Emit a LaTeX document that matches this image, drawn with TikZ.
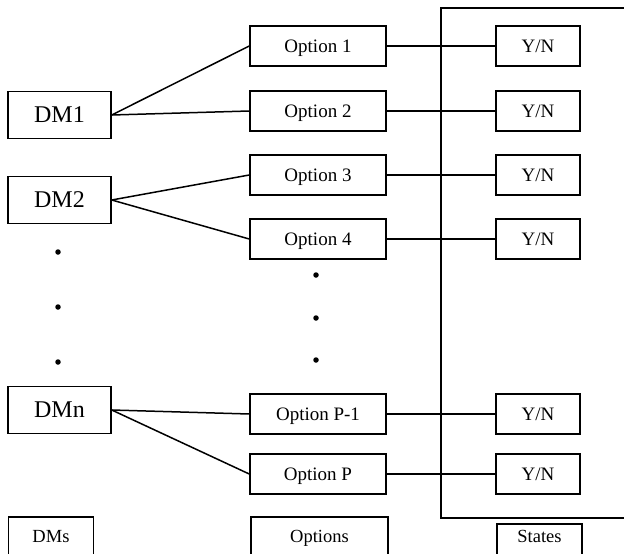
\documentclass[tikz,border=0pt]{standalone}
\usepackage{fontspec}
\setmainfont{Liberation Serif}
\usepackage{tikz}

\tikzset{
  dmbox/.style={draw, line width=1.5pt, minimum width=103pt, minimum height=47pt, text height=15.8pt, text depth=0pt, font=\fontsize{24}{27}\selectfont},
  optbox/.style={draw, line width=1.5pt, minimum width=136pt, minimum height=40pt, text height=12.5pt, text depth=0pt, font=\fontsize{19}{22}\selectfont},
  ynbox/.style={draw, line width=1.5pt, minimum width=84pt, minimum height=40pt, text height=12.5pt, text depth=0pt, font=\fontsize{19}{22}\selectfont},
  capbox/.style={draw, line width=1.5pt, minimum height=60pt, anchor=north},
  captext/.style={text height=12.2pt, text depth=0pt, font=\fontsize{18.5}{21}\selectfont},
  link/.style={line width=1.5pt},
  dot/.style={circle, fill, inner sep=0pt, minimum size=5.5pt}
}

\begin{document}
\begin{tikzpicture}[x=1pt,y=-1pt]
    \clip (0,0) rectangle (624,554);
    \fill[white] (0,0) rectangle (624,554);
    % states frame, running off the right and bottom
    \draw[link] (700,8) -- (441,8) -- (441,518) -- (700,518);

    % decision makers
    \node[dmbox] (dm1) at (59.5,115) {DM1};
    \node[dmbox] (dm2) at (59.5,200) {DM2};
    \node[dmbox] (dmn) at (59.5,410) {DMn};
    \node[dot] (dd1) at (58,252) {};
    \node[dot] (dd2) at (58,307) {};
    \node[dot] (dd3) at (58,362) {};

    % options
    \node[optbox] (opt1) at (318,46) {Option 1};
    \node[optbox] (opt2) at (318,111) {Option 2};
    \node[optbox] (opt3) at (318,175) {Option 3};
    \node[optbox] (opt4) at (318,239) {Option 4};
    \node[optbox] (optq) at (318,414) {Option P-1};
    \node[optbox] (optp) at (318,474) {Option P};
    \node[dot] (od1) at (316,275) {};
    \node[dot] (od2) at (316,318) {};
    \node[dot] (od3) at (316,360) {};

    % states
    \node[ynbox] (yn1) at (538,46) {Y/N};
    \node[ynbox] (yn2) at (538,111) {Y/N};
    \node[ynbox] (yn3) at (538,175) {Y/N};
    \node[ynbox] (yn4) at (538,239) {Y/N};
    \node[ynbox] (ynq) at (538,414) {Y/N};
    \node[ynbox] (ynp) at (538,474) {Y/N};

    \draw[link] (dm1.east) -- (opt1.west);
    \draw[link] (dm1.east) -- (opt2.west);
    \draw[link] (dm2.east) -- (opt3.west);
    \draw[link] (dm2.east) -- (opt4.west);
    \draw[link] (dmn.east) -- (optq.west);
    \draw[link] (dmn.east) -- (optp.west);
    \foreach \o/\s in {opt1/yn1, opt2/yn2, opt3/yn3, opt4/yn4, optq/ynq, optp/ynp}
      \draw[link] (\o.east) -- (\s.west);

    % column captions, cut off by the page edge
    \node[capbox, minimum width=85pt] (capdm) at (51,516) {};
    \node[captext] (capdmt) at (51,536) {DMs};
    \node[capbox, minimum width=137pt] (capopt) at (319.5,516) {};
    \node[captext] (capoptt) at (319.5,536) {Options};
    \node[capbox, minimum width=85pt] (capst) at (539.5,523) {};
    \node[captext] (capstt) at (539.5,536) {States};
\end{tikzpicture}
\end{document}
